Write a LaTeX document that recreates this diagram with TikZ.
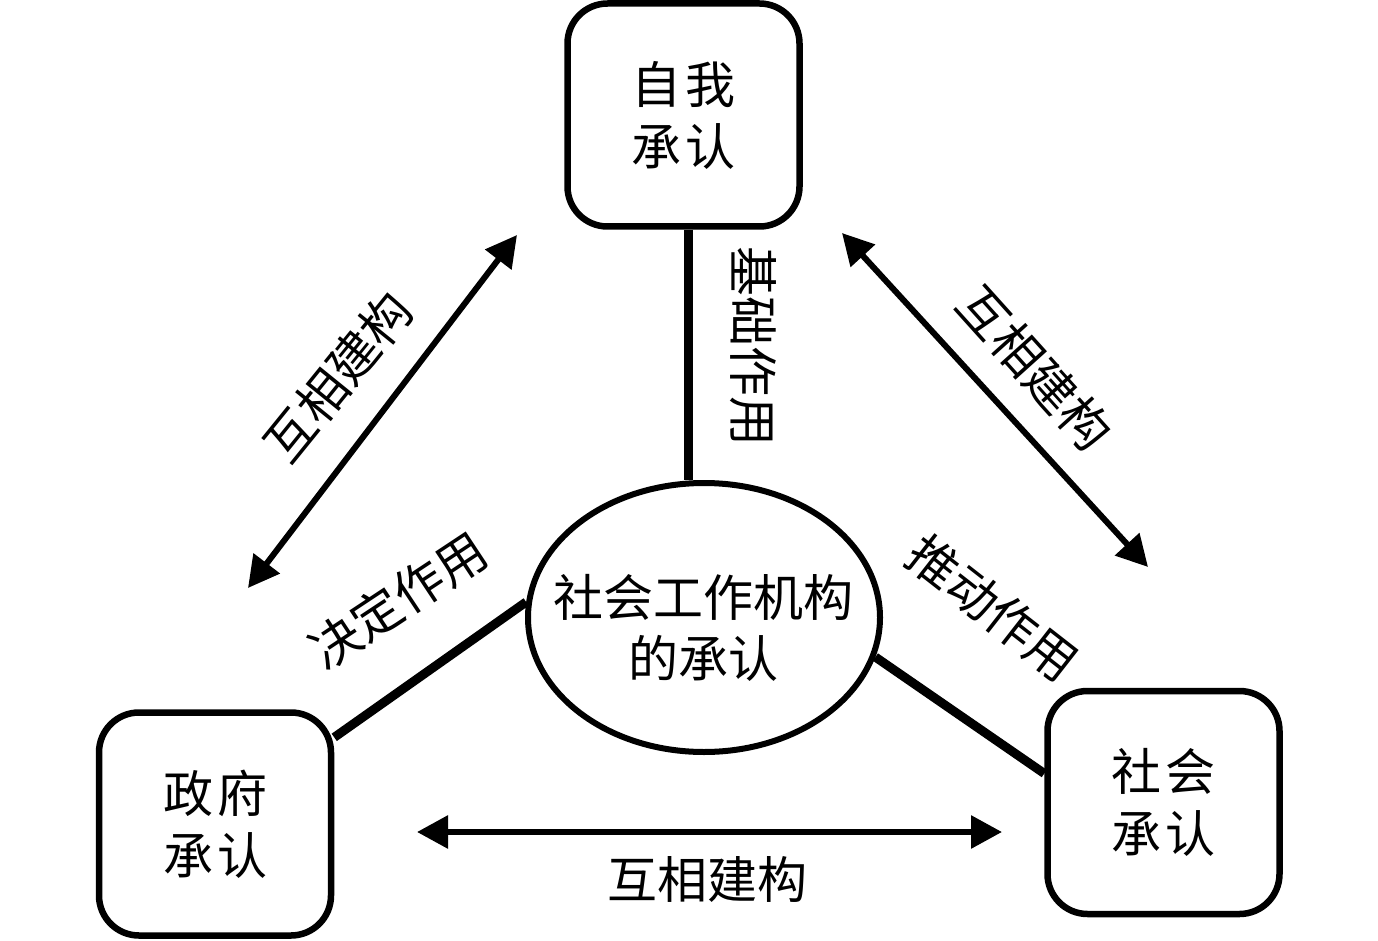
\documentclass[tikz,border=0pt]{standalone}
\usepackage{fontspec}
\newfontfamily\cjk{Noto Sans CJK SC}
\usetikzlibrary{shapes.geometric,arrows.meta}
\begin{document}
\begin{tikzpicture}[x=1pt,y=-1pt,
  box/.style={draw, line width=6.5pt, rounded corners=40pt, rectangle,
    minimum width=232pt, minimum height=223pt, inner sep=0pt,
    align=center, font=\cjk\fontsize{50}{62}\selectfont},
  oval/.style={draw, line width=6pt, ellipse, minimum width=352pt,
    minimum height=269pt, inner sep=0pt},
  ovaltext/.style={align=center, inner sep=0pt,
    font=\cjk\fontsize{50}{61}\selectfont},
  conn/.style={line width=9pt},
  dbl/.style={line width=6pt, {Triangle[length=31pt,width=32pt]}-{Triangle[length=31pt,width=32pt]}},
  lab/.style={font=\cjk\fontsize{50}{60}\selectfont, inner sep=0pt}
]
\useasboundingbox (0,0) rectangle (1378,941);
\fill[white] (0,0) rectangle (1378,941);

% boxes
\node[box] (top) at (683.5,115) {自\hspace{4pt}我\\承\hspace{4pt}认};
\node[box] (lbox) at (215,824) {政\hspace{4pt}府\\承\hspace{4pt}认};
\node[box] (rbox) at (1163.5,802.5) {社\hspace{4pt}会\\承\hspace{4pt}认};
\node[oval] (ell) at (704,617.5) {};
\node[ovaltext] (elltext) at (703,628) {社会工作机构\\的承认};

% connectors
\draw[conn] ([xshift=4.5pt]top.south) -- ([xshift=-16pt]ell.north);
\draw[conn] (lbox.36) -- (ell.175);
\draw[conn] ([yshift=29pt]rbox.west) -- (ell.-13);

% double arrows
\coordinate (la1) at (248,588);
\coordinate (la2) at (517,235);
\coordinate (ra1) at (842,233);
\coordinate (ra2) at (1148,567);
\coordinate (ba1) at (417,832);
\coordinate (ba2) at (1002,832);
\draw[dbl] (la1) -- (la2);
\draw[dbl] (ra1) -- (ra2);
\draw[dbl] (ba1) -- (ba2);

% labels
\node[lab, rotate=51] (t1) at (338,377) {互相建构};
\node[lab, rotate=-48] (t2) at (1035,368) {互相建构};
\node[lab] (t3) at (707,880) {互相建构};
\node[lab, rotate=-90] (t4) at (753,347) {基础作用};
\node[lab, rotate=33.5] (t5) at (398,600) {决定作用};
\node[lab, rotate=-38] (t6) at (993,608) {推动作用};
\end{tikzpicture}
\end{document}
